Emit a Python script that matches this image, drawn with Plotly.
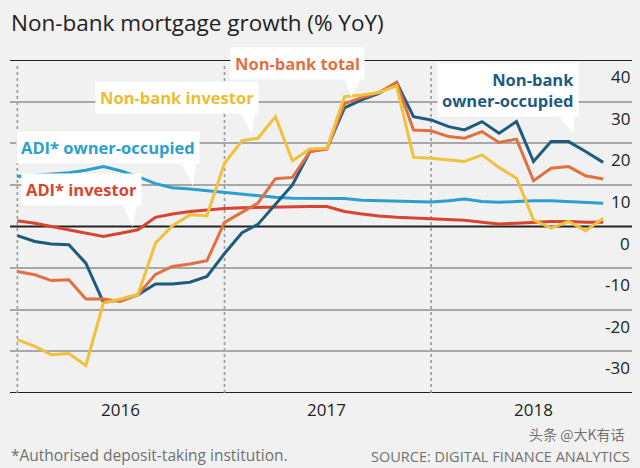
import pandas as pd
import plotly.graph_objects as go

# ---------------- data ----------------
months = pd.date_range("2016-01-01", "2018-11-01", freq="MS")

nonbank_owner = [-2.2, -3.6, -4.2, -4.4, -8.8, -18.2, -17.6, -16.4, -13.8, -13.8, -13.4, -12.0,
                 -6.5, -1.5, 0.5, 5.2, 10.0, 18.0, 18.8, 28.5, 30.5, 32.0, 34.6, 26.4,
                 25.6, 24.0, 23.2, 25.2, 22.4, 25.2, 15.6, 20.4, 20.4, 18.0, 15.4]
nonbank_total = [-10.8, -11.6, -13.0, -12.8, -17.4, -17.4, -18.0, -16.4, -11.5, -9.6, -9.0, -8.2,
                 1.0, 3.4, 5.6, 11.5, 11.8, 18.0, 18.6, 29.5, 31.0, 32.2, 34.6, 23.2,
                 23.0, 21.6, 21.2, 22.8, 20.2, 21.0, 11.0, 14.0, 14.4, 12.2, 11.4]
nonbank_investor = [-27.2, -28.8, -30.8, -30.5, -33.4, -18.4, -17.4, -16.4, -4.0, 0.2, 2.8, 2.6,
                    15.2, 20.6, 21.2, 26.4, 15.8, 18.6, 18.8, 31.2, 31.6, 32.2, 33.8, 16.6,
                    16.4, 16.0, 15.6, 17.2, 14.2, 11.6, 1.6, -0.4, 1.2, -1.0, 2.0]
adi_owner = [12.0, 12.3, 12.6, 12.9, 13.5, 14.4, 13.4, 12.0, 10.3, 9.3, 9.0, 8.6,
             8.3, 7.9, 7.5, 7.0, 6.8, 6.8, 6.8, 6.7, 6.3, 6.2, 6.2, 6.0,
             5.9, 6.2, 6.6, 6.0, 5.8, 6.0, 6.2, 6.2, 6.0, 5.8, 5.6]
adi_investor = [1.4, 0.8, 0.0, -0.8, -1.6, -2.4, -1.6, -0.8, 2.2, 3.0, 3.6, 4.0,
                4.3, 4.5, 4.6, 4.7, 4.8, 4.8, 4.8, 3.6, 3.0, 2.5, 2.2, 2.0,
                1.8, 1.6, 1.5, 1.0, 0.6, 0.8, 1.0, 1.2, 1.2, 1.0, 1.0]

y_ticks = [40, 30, 20, 10, 0, -10, -20, -30]
year_labels = ["2016", "2017", "2018"]
year_mid = ["2016-07-01", "2017-07-01", "2018-07-01"]
year_start = ["2016-01-01", "2017-01-01", "2018-01-01"]

# ---------------- styling ----------------
C_DARK = "#1d5b7f"
C_ORANGE = "#e0713f"
C_YELLOW = "#f0c13a"
C_LBLUE = "#2a9fd0"
C_RED = "#d9442e"
BG = "#f1f1f1"
FONT = "Open Sans"

W, H = 640, 468
ML, MR, MT, MB = 10, 8, 60, 75
PW, PH = W - ML - MR, H - MT - MB


def px(x):
    return (x - ML) / PW


def py(y):
    return (H - MB - y) / PH


fig = go.Figure()
series = [
    (adi_owner, C_LBLUE),
    (adi_investor, C_RED),
    (nonbank_owner, C_DARK),
    (nonbank_total, C_ORANGE),
    (nonbank_investor, C_YELLOW),
]
for vals, col in series:
    fig.add_trace(go.Scatter(x=months, y=vals, mode="lines",
                             line=dict(color=col, width=3), hoverinfo="skip"))

shapes = []
# black lines at 40, 0, -40
for v in (40, 0, -40):
    shapes.append(dict(type="line", xref="paper", yref="y", x0=0, x1=1, y0=v, y1=v,
                       line=dict(color="#222222", width=2.2), layer="below"))
# dotted year separators
for d in year_start:
    shapes.append(dict(type="line", xref="x", yref="paper", x0=d, x1=d, y0=0, y1=0.985,
                       line=dict(color="#9a9a9a", width=1.6, dash="dot"), layer="below"))


def tri(pts):
    p = " L ".join(f"{px(a):.4f},{py(b):.4f}" for a, b in pts)
    return dict(type="path", xref="paper", yref="paper", path="M " + p + " Z",
                fillcolor="white", line=dict(width=0), layer="above")


shapes += [
    tri([(344, 76), (362, 76), (351, 97)]),
    tri([(237, 106), (256, 106), (252, 134)]),
    tri([(179, 158), (197, 158), (193, 186)]),
    tri([(119, 198), (138, 198), (133, 227)]),
    tri([(553, 110), (575, 110), (573, 133)]),
]

ann = []
# y tick labels
for v in y_ticks:
    ann.append(dict(x=1, xref="paper", y=v, yref="y", xanchor="right", yanchor="top",
                    yshift=-3, text=str(v), showarrow=False,
                    font=dict(family=FONT, size=17, color="#222222")))
# year labels
for d, t in zip(year_mid, year_labels):
    ann.append(dict(x=d, xref="x", y=0, yref="paper", xanchor="center", yanchor="top",
                    yshift=-3, text=t, showarrow=False,
                    font=dict(family=FONT, size=17, color="#222222")))


def box(text, cx, cy, col, align="center"):
    return dict(x=px(cx), y=py(cy), xref="paper", yref="paper", xanchor="center",
                yanchor="middle", text=text, showarrow=False, align=align,
                bgcolor="white", borderpad=4,
                font=dict(family=FONT, size=16.5, color=col, weight="bold"))


ann += [
    box("Non-bank total", 297, 64, C_ORANGE),
    box("Non-bank investor", 177, 97, "#ecbd33"),
    box("ADI* owner-occupied", 108, 147, C_LBLUE),
    box("ADI* investor", 81, 189, C_RED),
    box("Non-bank<br>owner-occupied", 508, 90, C_DARK, align="right"),
]
# title and footers
ann.append(dict(x=px(9), y=py(23), xref="paper", yref="paper", xanchor="left", yanchor="middle",
                text="Non-bank mortgage growth (% YoY)", showarrow=False,
                font=dict(family=FONT, size=22.5, color="#222222")))
ann.append(dict(x=px(9), y=py(455), xref="paper", yref="paper", xanchor="left", yanchor="middle",
                text="*Authorised deposit-taking institution.", showarrow=False,
                font=dict(family=FONT, size=15.5, color="#707070")))
ann.append(dict(x=px(632), y=py(456), xref="paper", yref="paper", xanchor="right", yanchor="middle",
                text="SOURCE: DIGITAL FINANCE ANALYTICS", showarrow=False,
                font=dict(family=FONT, size=14.5, color="#707070")))
ann.append(dict(x=px(626), y=py(434), xref="paper", yref="paper", xanchor="right", yanchor="middle",
                text="头条 @大K有话", showarrow=False,
                font=dict(family="Noto Sans CJK SC", size=14, color="rgba(70,70,70,0.75)")))

fig.update_layout(
    width=W, height=H,
    margin=dict(l=ML, r=MR, t=MT, b=MB, pad=0),
    paper_bgcolor=BG, plot_bgcolor=BG,
    showlegend=False,
    xaxis=dict(type="date", range=["2015-12-19", "2018-12-22"], showgrid=False,
               showticklabels=False, zeroline=False, showline=False, ticks=""),
    yaxis=dict(range=[-40, 40], tickvals=[-30, -20, -10, 10, 20, 30], showgrid=True,
               gridcolor="#a8a8a8", gridwidth=1.6, showticklabels=False,
               zeroline=False, showline=False, ticks=""),
    shapes=shapes,
    annotations=ann,
)

fig.write_html("out.html", config={"displayModeBar": False},
               post_script="document.body.style.margin='0';")
